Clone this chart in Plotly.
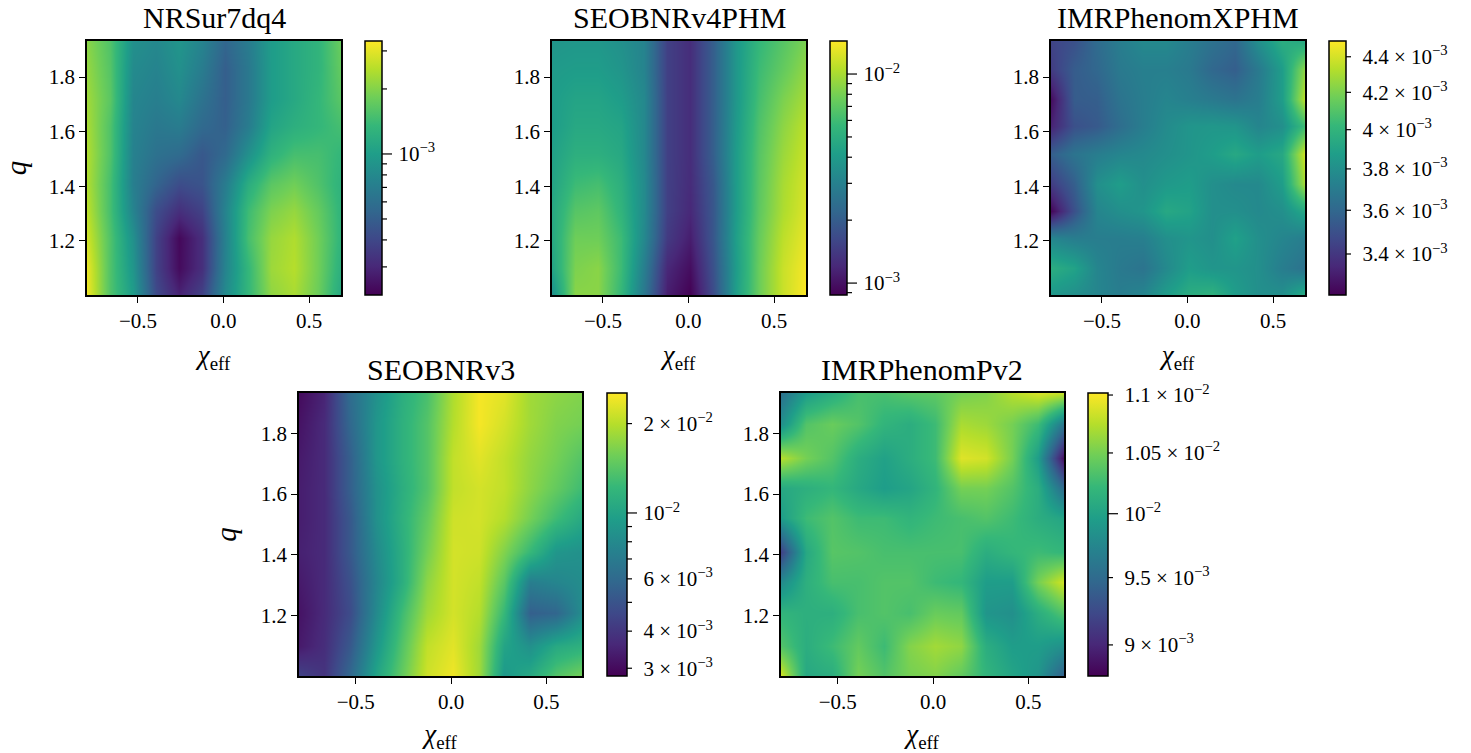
import numpy as np
import plotly.graph_objects as go

W, H = 1471, 753
FONT = "Liberation Serif"

chi_eff = [-0.80, -0.665, -0.53, -0.395, -0.26, -0.125, 0.01, 0.145, 0.28, 0.415, 0.55, 0.687]
q_vals = [1.932, 1.83, 1.72, 1.62, 1.52, 1.41, 1.31, 1.21, 1.10, 1.002]

# mismatch in units of 1e-3; rows run from q=1.93 (top) to q=1.00 (bottom)
nrsur = [
    [2.05, 1.56, .86, .79, .91, .75, .54, .69, .98, 1.13, 1.29, 1.79],
    [2.15, 1.60, .81, .75, .86, .69, .50, .66, .98, 1.13, 1.29, 1.74],
    [2.25, 1.65, .77, .71, .79, .62, .50, .66, .98, 1.13, 1.33, 1.65],
    [2.34, 1.56, .75, .66, .69, .56, .51, .69, 1.07, 1.22, 1.33, 1.48],
    [2.41, 1.56, .73, .61, .57, .47, .56, .86, 1.26, 1.48, 1.48, 1.33],
    [2.41, 1.48, .71, .53, .42, .45, .69, 1.19, 1.65, 1.84, 1.56, 1.26],
    [2.54, 1.48, .75, .42, .32, .38, .75, 1.41, 1.94, 2.16, 1.74, 1.29],
    [2.76, 1.56, .86, .38, .235, .32, .73, 1.48, 2.16, 2.41, 1.84, 1.29],
    [3.07, 1.56, .91, .38, .24, .32, .75, 1.33, 2.22, 2.47, 1.84, 1.22],
    [3.15, 1.56, .98, .41, .29, .38, .81, 1.33, 2.10, 2.34, 1.79, 1.13],
]
seobv4 = [
    [3.75, 3.86, 3.86, 3.55, 3.08, 1.5, 1.26, 2.03, 3.86, 5.6, 6.8, 8.2],
    [3.98, 4.08, 4.08, 3.75, 3.08, 1.5, 1.26, 2.03, 3.86, 5.9, 7.3, 9.0],
    [4.08, 4.45, 4.45, 4.08, 3.25, 1.5, 1.26, 2.03, 3.86, 6.2, 8.2, 9.9],
    [4.08, 4.69, 4.69, 4.45, 3.25, 1.5, 1.26, 2.03, 3.97, 6.55, 8.85, 10.9],
    [4.3, 5.1, 5.1, 4.69, 3.25, 1.5, 1.26, 2.03, 4.08, 6.8, 9.4, 11.5],
    [4.45, 5.9, 6.2, 5.1, 3.35, 1.5, 1.24, 1.9, 4.08, 6.95, 9.95, 12.1],
    [4.69, 6.8, 7.1, 5.4, 3.35, 1.5, 1.2, 1.87, 4.08, 7.1, 10.2, 12.5],
    [4.69, 7.7, 7.7, 5.9, 3.25, 1.42, 1.1, 1.87, 4.2, 7.4, 10.9, 13.2],
    [4.45, 8.2, 8.7, 5.9, 2.9, 1.2, .97, 1.77, 4.08, 7.6, 11.5, 14.0],
    [3.55, 8.7, 8.7, 5.6, 2.68, 1.1, .88, 1.68, 4.2, 7.6, 11.5, 14.4],
]
xphm = [
    [3.45, 3.50, 3.62, 3.71, 3.77, 3.77, 3.71, 3.65, 3.60, 3.80, 3.96, 3.93],
    [3.42, 3.55, 3.60, 3.69, 3.72, 3.72, 3.69, 3.60, 3.56, 3.69, 3.87, 4.25],
    [3.26, 3.55, 3.56, 3.66, 3.71, 3.75, 3.72, 3.69, 3.66, 3.71, 3.87, 4.35],
    [3.33, 3.50, 3.54, 3.63, 3.71, 3.78, 3.83, 3.84, 3.83, 3.75, 3.80, 4.05],
    [3.56, 3.66, 3.71, 3.75, 3.77, 3.80, 3.83, 3.87, 3.93, 3.87, 3.93, 4.39],
    [3.42, 3.56, 3.80, 3.87, 3.80, 3.85, 3.87, 3.80, 3.77, 3.77, 3.87, 4.30],
    [3.24, 3.50, 3.75, 3.80, 3.83, 3.93, 3.90, 3.80, 3.80, 3.77, 3.80, 3.93],
    [3.75, 3.71, 3.71, 3.71, 3.72, 3.80, 3.83, 3.80, 3.89, 3.80, 3.75, 3.71],
    [3.96, 3.90, 3.75, 3.69, 3.66, 3.77, 3.87, 3.83, 3.83, 3.80, 3.71, 3.65],
    [3.84, 3.80, 3.75, 3.71, 3.75, 3.87, 3.96, 3.99, 3.87, 3.80, 3.80, 3.96],
]
seobv3 = [
    [3.0, 3.52, 6.14, 8.5, 11.1, 13.3, 19.4, 24.7, 23.1, 18.5, 17.3, 16.6],
    [3.16, 3.67, 5.9, 8.9, 11.4, 13.9, 19.8, 24.7, 22, 18.5, 16.6, 15.9],
    [3.3, 3.67, 5.5, 8.9, 11.4, 13.9, 20.7, 23.1, 20.7, 17.7, 15.9, 13.9],
    [3.37, 3.67, 5.5, 8.5, 11.1, 13.9, 20.7, 22, 20.7, 17.3, 14.9, 12.7],
    [3.37, 3.67, 5.2, 8.5, 11.4, 14.9, 21.6, 22, 19.8, 15.9, 12.7, 10.6],
    [3.44, 3.67, 5.2, 8.0, 11.1, 15.9, 22, 21.6, 16.6, 12.2, 8.9, 8.5],
    [3.3, 3.67, 4.9, 7.7, 11.1, 17.3, 22, 20.7, 14.3, 7.2, 7.7, 8.2],
    [3.16, 3.67, 4.7, 8.0, 12.7, 18.5, 22, 19.8, 12.2, 5.5, 5.8, 8.2],
    [3.3, 3.75, 5.2, 8.9, 13.9, 20.7, 23.1, 18.5, 10.1, 8.5, 10.6, 11.4],
    [4.4, 3.94, 5.9, 10.1, 14.9, 21.6, 24.2, 18.5, 9.1, 10.6, 13.9, 15.9],
]
pv2 = [
    [9.56, 9.95, 10.11, 10.3, 10.3, 10.37, 10.4, 10.5, 10.55, 10.74, 10.87, 10.8],
    [9.83, 10.35, 10.45, 10.35, 10.18, 10.11, 10.25, 10.7, 10.65, 10.5, 10.25, 9.6],
    [10.74, 10.5, 10.35, 10.11, 9.99, 10.11, 10.25, 10.9, 10.85, 10.5, 9.95, 8.83],
    [10.06, 10.13, 10.2, 10.06, 9.95, 10.02, 10.18, 10.5, 10.5, 10.35, 10.11, 9.5],
    [9.95, 10.25, 10.35, 10.25, 10.25, 10.18, 10.25, 10.3, 10.35, 10.25, 10.11, 10.02],
    [9.18, 10.06, 10.37, 10.35, 10.3, 10.3, 10.3, 10.3, 10.11, 10.2, 10.25, 10.2],
    [9.78, 10.13, 10.3, 10.3, 10.35, 10.35, 10.25, 10.2, 9.95, 9.95, 10.5, 10.85],
    [10.18, 10.13, 10.13, 10.3, 10.35, 10.3, 10.45, 10.42, 9.88, 9.83, 10.11, 10.35],
    [10.35, 10.11, 10.25, 10.42, 10.25, 10.55, 10.67, 10.6, 10.11, 9.95, 9.95, 9.83],
    [10.85, 10.06, 10.11, 10.5, 10.35, 10.5, 10.55, 10.42, 10.18, 10.02, 9.88, 9.4],
]

panels = [
    dict(title="NRSur7dq4", z=nrsur, box=(87, 41, 341, 295), cb=(365, 382), lim=(-3.653, -2.477),
         labels={1e-3: "10<sup>−3</sup>"}, major=[1e-3],
         minor=[3e-4, 4e-4, 5e-4, 6e-4, 7e-4, 8e-4, 9e-4, 2e-3, 3e-3], ylabel=True),
    dict(title="SEOBNRv4PHM", z=seobv4, box=(552, 41, 806, 295), cb=(830, 847), lim=(-3.057, -1.842),
         labels={1e-2: "10<sup>−2</sup>", 1e-3: "10<sup>−3</sup>"}, major=[1e-2, 1e-3],
         minor=[9e-4, 2e-3, 3e-3, 4e-3, 5e-3, 6e-3, 7e-3, 8e-3, 9e-3], ylabel=False),
    dict(title="IMRPhenomXPHM", z=xphm, box=(1051, 41, 1305, 295), cb=(1329, 1346), lim=(-2.4918, -2.3476),
         labels={3.4e-3: "3.4 × 10<sup>−3</sup>", 3.6e-3: "3.6 × 10<sup>−3</sup>", 3.8e-3: "3.8 × 10<sup>−3</sup>",
                 4e-3: "4 × 10<sup>−3</sup>", 4.2e-3: "4.2 × 10<sup>−3</sup>", 4.4e-3: "4.4 × 10<sup>−3</sup>"},
         major=[], minor=[3.4e-3, 3.6e-3, 3.8e-3, 4e-3, 4.2e-3, 4.4e-3], ylabel=False),
    dict(title="SEOBNRv3", z=seobv3, box=(299, 393, 582, 676), cb=(607, 627), lim=(-2.549, -1.596),
         labels={2e-2: "2 × 10<sup>−2</sup>", 1e-2: "10<sup>−2</sup>", 6e-3: "6 × 10<sup>−3</sup>",
                 4e-3: "4 × 10<sup>−3</sup>", 3e-3: "3 × 10<sup>−3</sup>"}, major=[1e-2],
         minor=[2e-2, 9e-3, 8e-3, 7e-3, 6e-3, 5e-3, 4e-3, 3e-3], ylabel=True),
    dict(title="IMRPhenomPv2", z=pv2, box=(781, 393, 1064, 676), cb=(1088, 1108), lim=(-2.0566, -1.9579),
         labels={1.1e-2: "1.1 × 10<sup>−2</sup>", 1.05e-2: "1.05 × 10<sup>−2</sup>", 1e-2: "10<sup>−2</sup>",
                 9.5e-3: "9.5 × 10<sup>−3</sup>", 9e-3: "9 × 10<sup>−3</sup>"}, major=[1e-2],
         minor=[1.1e-2, 1.05e-2, 9.5e-3, 9e-3], ylabel=False),
]

XRANGE = [-0.798, 0.687]
YRANGE = [1.002, 1.932]
q_up = q_vals[::-1]

fig = go.Figure()
layout = {}
shapes = []
annos = []
for i, p in enumerate(panels, start=1):
    x0, y0, x1, y1 = p["box"]
    c0, c1 = p["cb"]
    lo, hi = p["lim"]
    z = np.log10(np.array(p["z"])[::-1] * 1e-3)
    tv = list(p["labels"].keys())
    fig.add_trace(go.Heatmap(
        x=chi_eff, y=q_up, z=z, zsmooth="best", colorscale="Viridis",
        zmin=lo, zmax=hi, xaxis=f"x{i}", yaxis=f"y{i}",
        hoverinfo="skip",
        colorbar=dict(
            x=c0 / W, xref="paper", xanchor="left", xpad=0,
            y=1 - y1 / H, yref="paper", yanchor="bottom", ypad=0,
            len=(y1 - y0) / H, lenmode="fraction",
            thickness=c1 - c0, thicknessmode="pixels",
            outlinecolor="black", outlinewidth=1.5, borderwidth=0,
            tickmode="array", tickvals=[float(np.log10(v)) for v in tv],
            ticktext=list(p["labels"].values()),
            ticks="outside", ticklen=12, tickcolor="rgba(0,0,0,0)",
            tickfont=dict(family=FONT, size=21, color="black"),
        ),
    ))
    common = dict(showline=True, linecolor="black", linewidth=1.5, mirror=True, ticks="outside",
                  ticklen=6, tickwidth=1.2, tickcolor="black", showgrid=False, zeroline=False,
                  tickfont=dict(family=FONT, size=21, color="black"))
    layout[f"xaxis{i}"] = dict(domain=[x0 / W, x1 / W], range=XRANGE, anchor=f"y{i}",
                               tickvals=[-0.5, 0.0, 0.5], tickformat=".1f",
                               title=dict(text="<i>χ</i><sub>eff</sub>", standoff=13,
                                          font=dict(family=FONT, size=27, color="black")), **common)
    ytitle = dict(text="<i>q</i>", standoff=16, font=dict(family=FONT, size=29, color="black")) if p["ylabel"] else None
    layout[f"yaxis{i}"] = dict(domain=[1 - y1 / H, 1 - y0 / H], range=YRANGE, anchor=f"x{i}",
                               tickvals=[1.2, 1.4, 1.6, 1.8], tickformat=".1f", title=ytitle, **common)
    annos.append(dict(text=p["title"], xref="paper", yref="paper", x=(x0 + x1) / 2 / W,
                      y=1 - (y0 - 6) / H, xanchor="center", yanchor="bottom", showarrow=False, borderpad=0,
                      font=dict(family=FONT, size=30, color="black")))
    for v, ln in [(m, 10) for m in p["major"]] + [(m, 5) for m in p["minor"]]:
        frac = (np.log10(v) - lo) / (hi - lo)
        py = 1 - (y1 - frac * (y1 - y0)) / H
        shapes.append(dict(type="line", xref="paper", yref="paper", x0=c1 / W, x1=(c1 + ln) / W,
                           y0=py, y1=py, line=dict(color="black", width=1.2)))

fig.update_layout(width=W, height=H, margin=dict(l=0, r=0, t=0, b=0), paper_bgcolor="white",
                  plot_bgcolor="white", annotations=annos, shapes=shapes,
                  font=dict(family=FONT, color="black"), **layout)
fig.write_html("out.html", config={"displayModeBar": False},
               post_script="document.body.style.margin='0';document.documentElement.style.overflow='hidden';")
